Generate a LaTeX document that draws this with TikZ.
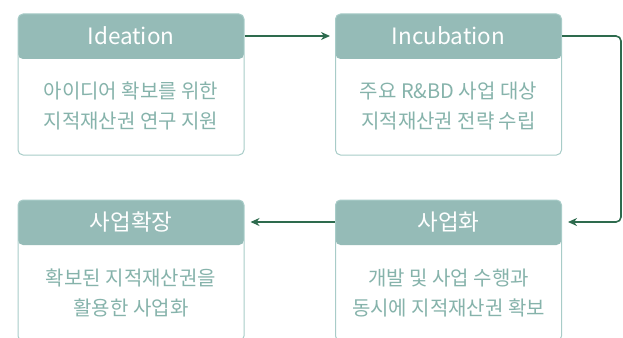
\documentclass[tikz,border=0pt]{standalone}
\usepackage{fontspec}
\setmainfont{Noto Sans CJK KR}
\usepackage{tikz}
\usetikzlibrary{graphs}
\usetikzlibrary{arrows.meta}
\usepackage{xcolor}

\definecolor{headfill}{HTML}{95BBB7}
\definecolor{boxline}{HTML}{A8CCC8}
\definecolor{bodygreen}{HTML}{86B3AB}
\definecolor{arrowgreen}{HTML}{2E6B4E}

\tikzset{
    stage/.style={draw=boxline, line width=1pt, rounded corners=5pt, fill=white,
        minimum width=226pt, minimum height=141pt, inner sep=0pt,
        path picture={\fill[headfill] (path picture bounding box.north west)
            rectangle ([yshift=-45pt]path picture bounding box.north east);}},
    headtext/.style={text=white, font=\fontsize{22.5}{26}\selectfont},
    bodytext/.style={text=bodygreen, align=center, font=\fontsize{20}{30}\selectfont},
    flow/.style={draw=arrowgreen, line width=1.6pt, -{Stealth[length=9pt,width=8pt]}},
}

\begin{document}
\begin{tikzpicture}[x=1pt, y=1pt]
        \clip (0,0) rectangle (623,-337);

        \node[stage] (ideaBox) at (131,-84.5)   {};
        \node[stage] (incBox)  at (448.5,-84.5) {};
        \node[stage] (bizBox)  at (448.5,-270.5) {};
        \node[stage] (expBox)  at (131,-270.5)  {};

        \node[headtext] (ideaHead) at (131,-36)    {Ideation};
        \node[headtext] (incHead)  at (448.5,-36)  {Incubation};
        \node[headtext] (bizHead)  at (448.5,-222) {사업화};
        \node[headtext] (expHead)  at (131,-222)   {사업확장};

        \node[bodytext] (ideaText) at (131,-106)   {아이디어 확보를 위한\\지적재산권 연구 지원};
        \node[bodytext] (incText)  at (448.5,-106) {주요 R\&BD 사업 대상\\지적재산권 전략 수립};
        \node[bodytext] (bizText)  at (448.5,-293) {개발 및 사업 수행과\\동시에 지적재산권 확보};
        \node[bodytext] (expText)  at (131,-293)   {확보된 지적재산권을\\활용한 사업화};

        \coordinate (ideaOut) at (ideaBox.east |- ideaHead);
        \coordinate (incIn)   at ([xshift=-5pt]incBox.west |- incHead);
        \coordinate (incOut)  at (incBox.east |- incHead);
        \coordinate (bizIn)   at ([xshift=6pt]bizBox.east |- bizHead);
        \coordinate (bizOut)  at (bizBox.west |- bizHead);
        \coordinate (expIn)   at ([xshift=6pt]expBox.east |- expHead);
        \coordinate (turnTop) at (621,-36);
        \coordinate (turnBot) at (bizIn -| turnTop);

        \graph {(ideaOut) ->[flow] (incIn)};
        \graph {(bizOut)  ->[flow] (expIn)};
        \draw[flow, rounded corners=5pt] (incOut) -- (turnTop) -- (turnBot) -- (bizIn);
    \end{tikzpicture}
\end{document}
